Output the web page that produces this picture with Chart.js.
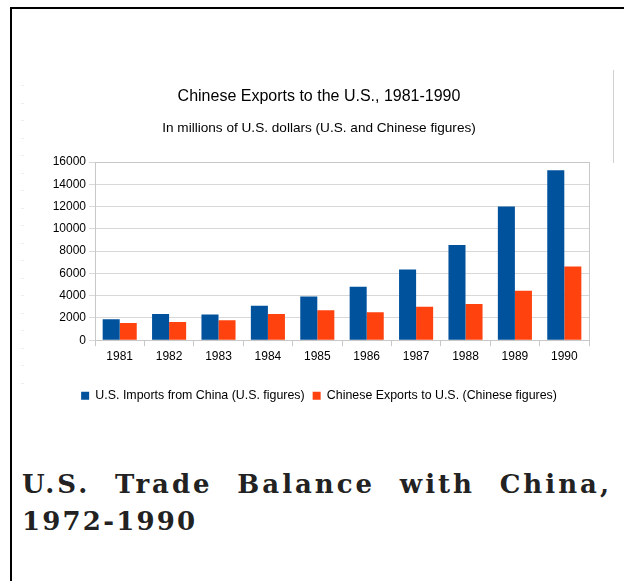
<!DOCTYPE html>
<html>
<head>
<meta charset="utf-8">
<script src="https://cdn.jsdelivr.net/npm/chart.js@4.4.1/dist/chart.umd.min.js"></script>
<style>
  html, body { margin:0; padding:0; background:#fff; }
  body { width:624px; height:581px; position:relative; overflow:hidden; }
  #frameTop { position:absolute; left:10px; top:7px; width:614px; height:2px; background:#000; }
  #frameLeft { position:absolute; left:10px; top:7px; width:2px; height:574px; background:#000; }
  #rightLine { position:absolute; left:613px; top:70px; width:1px; height:93px; background:#d0d0d0; }
  .dash { position:absolute; width:3px; height:1px; background:#eeeeee; }
  #wrap { position:absolute; left:10px; top:70px; width:604px; height:350px; }
  #heading { position:absolute; left:22px; top:466px; width:590px;
    font-family:"DejaVu Serif", serif; font-weight:bold; font-size:26px; color:#222;
    line-height:37px; }
  #heading .l1 { display:flex; justify-content:space-between; letter-spacing:3px; white-space:nowrap; }
  #heading .l2 { letter-spacing:2.2px; }
</style>
</head>
<body>
<div id="frameTop"></div>
<div id="frameLeft"></div>
<div id="rightLine"></div>
<div id="wrap"><canvas id="c"></canvas></div>
<div id="heading">
  <div class="l1"><span>U.S.</span><span>Trade</span><span>Balance</span><span>with</span><span>China,</span></div>
  <div class="l2">1972-1990</div>
</div>
<script>
const years = ["1981","1982","1983","1984","1985","1986","1987","1988","1989","1990"];
const usImports = [1880, 2350, 2300, 3100, 3930, 4800, 6350, 8550, 12000, 15250];
const chineseExports = [1550, 1640, 1790, 2350, 2680, 2500, 3010, 3240, 4440, 6610];
const seriesNames = ["U.S. Imports from China (U.S. figures)", "Chinese Exports to U.S. (Chinese figures)"];
const yTicks = [0, 2000, 4000, 6000, 8000, 10000, 12000, 14000, 16000];

// faint decorative dashes down the left margin
for (let y = 85; y <= 395; y += 17.5) {
  const d = document.createElement('div');
  d.className = 'dash';
  d.style.left = '21px';
  d.style.top = Math.round(y) + 'px';
  document.body.appendChild(d);
}

const FONT = "'Liberation Sans', Arial, sans-serif";

const plotBorder = {
  id: 'plotBorder',
  afterDraw(chart) {
    const {ctx, chartArea: a} = chart;
    ctx.save();
    ctx.strokeStyle = '#c8c8c8';
    ctx.lineWidth = 1;
    ctx.strokeRect(Math.round(a.left) + 0.5, Math.round(a.top) + 0.5, Math.round(a.right - a.left), Math.round(a.bottom - a.top));
    ctx.restore();
  }
};

new Chart(document.getElementById('c'), {
  type: 'bar',
  data: {
    labels: years,
    datasets: [
      { label: seriesNames[0], data: usImports, backgroundColor: '#00529c', borderWidth: 0 },
      { label: seriesNames[1], data: chineseExports, backgroundColor: '#ff420e', borderWidth: 0 }
    ]
  },
  options: {
    responsive: true,
    maintainAspectRatio: false,
    animation: false,
    layout: { padding: { left: 39, right: 25, top: 0, bottom: 8 } },
    datasets: { bar: { categoryPercentage: 0.69, barPercentage: 1.0 } },
    plugins: {
      title: {
        display: true,
        text: 'Chinese Exports to the U.S., 1981-1990',
        color: '#000',
        font: { family: FONT, size: 16, weight: 'normal' },
        padding: { top: 17, bottom: 12 }
      },
      subtitle: {
        display: true,
        text: 'In millions of U.S. dollars (U.S. and Chinese figures)',
        color: '#000',
        font: { family: FONT, size: 13.6, weight: 'normal' },
        padding: { top: 2, bottom: 25.5 }
      },
      legend: {
        position: 'bottom',
        labels: {
          boxWidth: 8, boxHeight: 8, padding: 8,
          color: '#000',
          font: { family: FONT, size: 12.4 }
        }
      },
      tooltip: { enabled: false }
    },
    scales: {
      x: {
        grid: { display: true, drawOnChartArea: false, drawTicks: true, tickLength: 6, color: '#c8c8c8', offset: true },
        border: { display: true, color: '#c8c8c8' },
        ticks: { color: '#000', font: { family: FONT, size: 12 }, padding: 3, maxRotation: 0 },
        afterFit(scale) { scale.height = scale.height + 15; }
      },
      y: {
        min: 0, max: 16000,
        afterBuildTicks(scale) { scale.ticks = yTicks.map(v => ({ value: v })); },
        grid: { color: '#d8d8d8', tickLength: 6, drawTicks: true },
        border: { display: true, color: '#c8c8c8' },
        ticks: { color: '#000', font: { family: FONT, size: 12 }, padding: 3, callback: v => String(v) },
        afterFit(scale) { scale.width = 46; }
      }
    }
  },
  plugins: [plotBorder]
});
</script>
</body>
</html>
